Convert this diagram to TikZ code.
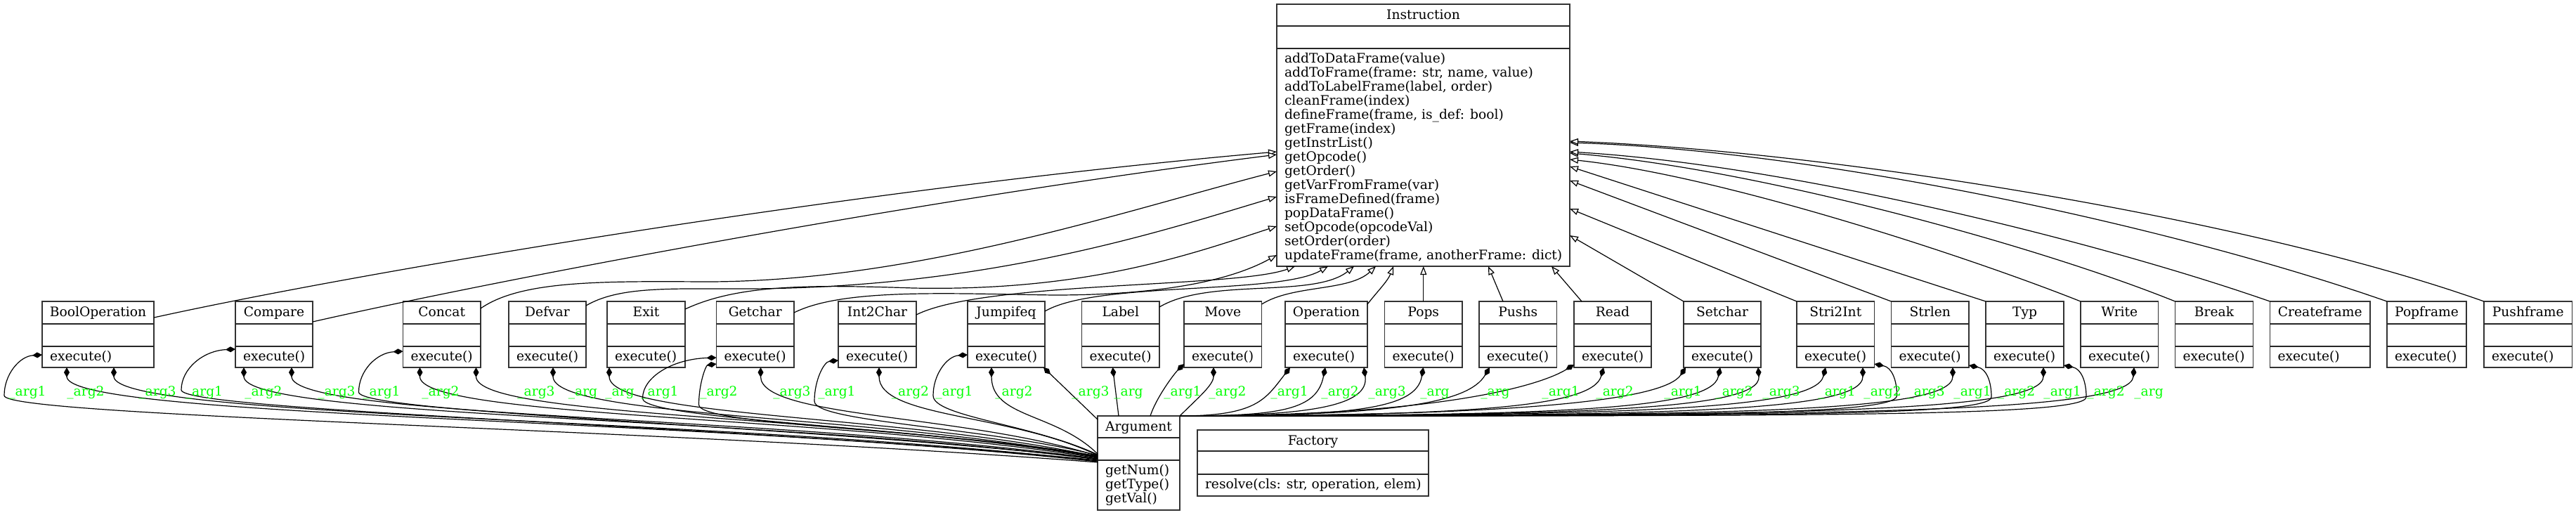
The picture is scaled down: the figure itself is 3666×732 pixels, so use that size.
\documentclass[tikz,border=0pt]{standalone}
\usepackage{fontspec}
\setmainfont{DejaVu Serif}
\usetikzlibrary{arrows.meta,calc,fit}
\definecolor{ggreen}{RGB}{0,255,0}
\tikzset{
  umlfont/.style={font=\fontsize{18.67}{20}\selectfont},
  clsbox/.style={draw=black!80, line width=1.4pt, inner sep=0pt, outer sep=0pt},
  clsline/.style={draw=black!85, line width=1.4pt},
  clstext/.style={umlfont, inner sep=0pt, outer sep=0pt},
  inherit/.style={line width=1.2pt, -{Triangle[length=12pt,width=9pt,fill=white]}},
  compo/.style={line width=1.2pt, {Diamond[length=14pt,width=8pt]}-},
  lbl/.style={umlfont, text=ggreen, inner sep=0pt, anchor=base},
}
\newcommand{\umlclass}[9]{%
  \node[clsbox, fit={(#2,#4) (#3,#7)}] (#1) {};
  \draw[clsline] (#2,#5) -- (#3,#5);
  \draw[clsline] (#2,#6) -- (#3,#6);
  \node[clstext, anchor=base] (#1-t) at ({(#2+#3)/2},{#4+21}) {#8};
  \foreach \m [count=\i] in {#9}{\node[clstext, anchor=base west] (#1-m\i) at ({#2+11},{#6+20.5+(\i-1)*20}) {\m};}
}
\newcommand{\subcls}[4]{\umlclass{#1}{#2}{#3}{429}{461}{493}{523}{#4}{execute()}}
% composition: bottom start, end on Argument west side
\newcommand{\compBL}[2]{%
  \coordinate (cS) at #1; \coordinate (cE) at #2;
  \draw[compo] (cS) .. controls ($(cS)+(0,72)$) and ($(cS)!0.6!(cE)+(0,-10)$) .. (cE);
}
% composition: side start (left side of a box), end on Argument west side
\newcommand{\compSL}[3]{%
  \coordinate (cS) at #1; \coordinate (cE) at #2;
  \coordinate (cP) at ($(cS)+(-#3,58)$);
  \draw[compo] (cS) .. controls ($(cS)+(-0.6*#3,2)$) and ($(cP)+(0,-30)$) .. (cP)
     .. controls ($(cP)+(0,30)$) and ($(cP)!0.6!(cE)+(0,-10)$) .. (cE);
}
% composition: to Argument top right, first control offset #3
\newcommand{\compR}[3]{%
  \coordinate (cS) at #1; \coordinate (cE) at #2;
  \coordinate (cM) at ($(cS)!0.3!(cE)$);
  \draw[compo] (cS) .. controls ($(cS)+#3$) and (cM |- cE) .. (cE);
}
% composition: right side start, to Argument top right
\newcommand{\compRR}[2]{%
  \coordinate (cS) at #1; \coordinate (cE) at #2;
  \coordinate (cP) at ($(cS)+(32,45)$);
  \coordinate (cM) at ($(cP)!0.3!(cE)$);
  \draw[compo] (cS) .. controls ($(cS)+(25,5)$) and ($(cP)+(0,-22)$) .. (cP)
     .. controls ($(cP)+(0,28)$) and (cM |- cE) .. (cE);
}
\begin{document}
\begin{tikzpicture}[x=1pt,y=-1pt]
\useasboundingbox (0,0) rectangle (3666,732);
% ---------- classes ----------
\umlclass{cinst}{1817}{2234}{6}{37}{69}{379}{Instruction}{addToDataFrame(value), {addToFrame(frame: str, name, value)}, {addToLabelFrame(label, order)}, cleanFrame(index), {defineFrame(frame, is\_def: bool)}, getFrame(index), getInstrList(), getOpcode(), getOrder(), getVarFromFrame(var), isFrameDefined(frame), popDataFrame(), setOpcode(opcodeVal), setOrder(order), {updateFrame(frame, anotherFrame: dict)}}
\umlclass{carg}{1562}{1679}{592}{623}{655}{726}{Argument}{getNum(), getType(), getVal()}
\umlclass{cfac}{1704}{2033}{612}{642}{675}{706}{Factory}{{resolve(cls: str, operation, elem)}}
\subcls{cboolop}{60}{219}{BoolOperation}
\subcls{ccompare}{335}{445}{Compare}
\subcls{cconcat}{573.5}{684}{Concat}
\subcls{cdefvar}{724}{834}{Defvar}
\subcls{cexit}{864}{975}{Exit}
\subcls{cgetchar}{1019.5}{1130}{Getchar}
\subcls{cint2char}{1193}{1304}{Int2Char}
\subcls{cjumpifeq}{1377}{1487}{Jumpifeq}
\subcls{clabel}{1539.5}{1650}{Label}
\subcls{cmove}{1685}{1795.5}{Move}
\subcls{coperation}{1829}{1946}{Operation}
\subcls{cpops}{1970.5}{2081}{Pops}
\subcls{cpushs}{2105}{2215.5}{Pushs}
\subcls{cread}{2240}{2350}{Read}
\subcls{csetchar}{2396}{2506}{Setchar}
\subcls{cstri2int}{2557}{2667.5}{Stri2Int}
\subcls{cstrlen}{2691.5}{2802}{Strlen}
\subcls{ctyp}{2826}{2937}{Typ}
\subcls{cwrite}{2961}{3071.5}{Write}
\subcls{cbreak}{3095.5}{3206.5}{Break}
\subcls{ccreateframe}{3230.5}{3373}{Createframe}
\subcls{cpopframe}{3397}{3510}{Popframe}
\subcls{cpushframe}{3535}{3660.5}{Pushframe}
% ---------- inheritance ----------
\draw[inherit] ([yshift=-23pt]cboolop.north east) .. controls (500,390) and (1200,270) .. ([yshift=-210pt]cinst.north west);
\draw[inherit] ([yshift=-29pt]ccompare.north east) .. controls (700,400) and (1300,285) .. ([yshift=-214pt]cinst.north west);
\draw[inherit] ([yshift=-10pt]cconcat.north east) .. controls (740,400) and (850,400) .. (1000,401) .. controls (1300,402) and (1600,300) .. ([yshift=-238pt]cinst.north west);
\draw[inherit] ([yshift=-6pt]cdefvar.north east) .. controls (880,408) and (950,411) .. (1050,411) .. controls (1400,412) and (1650,330) .. ([yshift=-274pt]cinst.north west);
\draw[inherit] ([yshift=-11pt]cexit.north east) .. controls (1050,405) and (1150,405) .. (1300,410) .. controls (1550,415) and (1700,360) .. ([yshift=-316pt]cinst.north west);
\draw[inherit] ([yshift=-16pt]cgetchar.north east) .. controls (1200,410) and (1350,418) .. (1500,420) .. controls (1650,420) and (1750,400) .. ([yshift=-357pt]cinst.north west);
\draw[inherit] ([yshift=-19pt]cint2char.north east) .. controls (1400,400) and (1760,410) .. ([xshift=26pt]cinst.south west);
\draw[inherit] ([yshift=-14pt]cjumpifeq.north east) .. controls (1560,400) and (1820,420) .. ([xshift=73pt]cinst.south west);
\draw[inherit] ([yshift=-8pt]clabel.north east) .. controls (1720,395) and (1870,425) .. ([xshift=110pt]cinst.south west);
\draw[inherit] ([yshift=-4pt]cmove.north east) .. controls (1840,405) and (1920,415) .. ([xshift=141pt]cinst.south west);
\draw[inherit] ([yshift=-4pt]coperation.north east) .. controls (1960,415) and (1975,400) .. ([xshift=166pt]cinst.south west);
\draw[inherit] (cpops.north) -- (cpops.north |- cinst.south);
\draw[inherit] ([xshift=34pt]cpushs.north west) -- ([xshift=301pt]cinst.south west);
\draw[inherit] ([xshift=11pt]cread.north west) -- ([xshift=391pt]cinst.south west);
\draw[inherit] (csetchar.north west) -- ([yshift=-329pt]cinst.north east);
\draw[inherit] (cstri2int.north west) -- ([yshift=-291pt]cinst.north east);
\draw[inherit] (cstrlen.north west) -- ([yshift=-251pt]cinst.north east);
\draw[inherit] (ctyp.north west) -- ([yshift=-231pt]cinst.north east);
\draw[inherit] (cwrite.north west) .. controls (2800,365) and (2450,250) .. ([yshift=-221pt]cinst.north east);
\draw[inherit] (cbreak.north west) .. controls (2900,350) and (2500,240) .. ([yshift=-212pt]cinst.north east);
\draw[inherit] (ccreateframe.north west) .. controls (2990,345) and (2550,235) .. ([yshift=-210pt]cinst.north east);
\draw[inherit] (cpopframe.north west) .. controls (3100,325) and (2600,215) .. ([yshift=-197pt]cinst.north east);
\draw[inherit] (cpushframe.north west) .. controls (3200,310) and (2600,215) .. ([yshift=-195pt]cinst.north east);
% ---------- composition ----------
\compSL{([yshift=-76pt]cboolop.north west)}{([yshift=-66pt]carg.north west)}{54}
\compBL{([xshift=35pt]cboolop.south west)}{([yshift=-65pt]carg.north west)}
\compBL{([xshift=102pt]cboolop.south west)}{([yshift=-64pt]carg.north west)}
\compSL{([yshift=-68pt]ccompare.north west)}{([yshift=-63pt]carg.north west)}{77}
\compBL{([xshift=12pt]ccompare.south west)}{([yshift=-62pt]carg.north west)}
\compBL{([xshift=80pt]ccompare.south west)}{([yshift=-61pt]carg.north west)}
\compSL{([yshift=-71pt]cconcat.north west)}{([yshift=-61pt]carg.north west)}{63}
\compBL{([xshift=24pt]cconcat.south west)}{([yshift=-60pt]carg.north west)}
\compBL{([xshift=104pt]cconcat.south west)}{([yshift=-59pt]carg.north west)}
\compBL{([xshift=63pt]cdefvar.south west)}{([yshift=-59pt]carg.north west)}
\compBL{([xshift=3pt]cexit.south west)}{([yshift=-58pt]carg.north west)}
\compSL{([yshift=-80pt]cgetchar.north west)}{([yshift=-58pt]carg.north west)}{105}
\compSL{([yshift=-89pt]cgetchar.north west)}{([yshift=-57pt]carg.north west)}{25}
\compBL{([xshift=63pt]cgetchar.south west)}{([yshift=-57pt]carg.north west)}
\compSL{([yshift=-84pt]cint2char.north west)}{([yshift=-56pt]carg.north west)}{34}
\compBL{([xshift=58pt]cint2char.south west)}{([yshift=-56pt]carg.north west)}
\compSL{([yshift=-76pt]cjumpifeq.north west)}{([yshift=-55pt]carg.north west)}{49}
\compBL{([xshift=34pt]cjumpifeq.south west)}{([yshift=-54pt]carg.north west)}
\draw[compo] ([xshift=108pt]cjumpifeq.south west) -- ([yshift=-5pt]carg.north west);
\draw[compo] ([xshift=44pt]clabel.south west) -- ([xshift=30pt]carg.north west);
\draw[compo] ([yshift=-89pt]cmove.north west) .. controls +(-15,15) and +(8,-25) .. ([xshift=75pt]carg.north west);
\draw[compo] ([xshift=42pt]cmove.south west) .. controls +(0,25) and +(25,-25) .. (carg.north east);
\compR{([xshift=7pt]coperation.south west)}{(carg.north east)}{(-35,45)}
\compR{([xshift=57pt]coperation.south west)}{(carg.north east)}{(-12,60)}
\compR{([xshift=112pt]coperation.south west)}{(carg.north east)}{(8,55)}
\compR{([xshift=55pt]cpops.south west)}{(carg.north east)}{(-10,60)}
\compR{([xshift=15pt]cpushs.south west)}{(carg.north east)}{(-30,50)}
\compR{([yshift=-90pt]cread.north west)}{(carg.north east)}{(-40,25)}
\compR{([xshift=42pt]cread.south west)}{(carg.north east)}{(-15,55)}
\compR{([xshift=3pt]csetchar.south west)}{(carg.north east)}{(-30,45)}
\compR{([xshift=52pt]csetchar.south west)}{(carg.north east)}{(-12,60)}
\compR{([xshift=106pt]csetchar.south west)}{(carg.north east)}{(5,60)}
\compR{([xshift=41pt]cstri2int.south west)}{(carg.north east)}{(-15,60)}
\compR{([xshift=94pt]cstri2int.south west)}{(carg.north east)}{(0,65)}
\compRR{([yshift=-89pt]cstri2int.north east)}{(carg.north east)}
\compR{([xshift=87.5pt]cstrlen.south west)}{(carg.north east)}{(0,65)}
\compRR{([yshift=-91pt]cstrlen.north east)}{(carg.north east)}
\compR{([xshift=82pt]ctyp.south west)}{(carg.north east)}{(0,65)}
\compRR{([yshift=-91pt]ctyp.north east)}{(carg.north east)}
\compR{([xshift=76pt]cwrite.south west)}{(carg.north east)}{(-5,65)}
% ---------- labels ----------
\foreach \lblx/\lbltxt [count=\k] in {39/\_arg1, 122/\_arg2, 224/\_arg3, 290.5/\_arg1, 375/\_arg2, 479/\_arg3, 543/\_arg1, 627/\_arg2, 763/\_arg3, 829.5/\_arg, 882/\_arg, 939/\_arg1, 1023/\_arg2, 1127/\_arg3, 1191/\_arg1, 1295.5/\_arg2, 1358/\_arg1, 1443/\_arg2, 1552/\_arg3, 1606/\_arg, 1683/\_arg1, 1747/\_arg2, 1835/\_arg1, 1907/\_arg2, 1974/\_arg3, 2042/\_arg, 2128/\_arg, 2221/\_arg1, 2298/\_arg2, 2395/\_arg1, 2468/\_arg2, 2535/\_arg3, 2614/\_arg1, 2679/\_arg2, 2741/\_arg3, 2807/\_arg1, 2869.5/\_arg2, 2935/\_arg1, 2997/\_arg2, 3058/\_arg}
  {\node[lbl] (lab\k) at (\lblx,563) {\lbltxt};}
\end{tikzpicture}
\end{document}
